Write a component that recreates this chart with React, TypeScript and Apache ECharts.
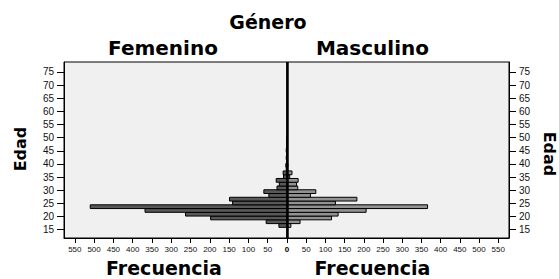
import React, { useEffect, useRef } from "react";
import * as echarts from "echarts";

// Age bin edges (years), bottom to top
const binEdges = [
  15.9, 17.33, 18.76, 20.19, 21.62, 23.05, 24.48, 25.91, 27.34, 28.77, 30.2, 31.63,
  33.06, 34.49, 35.92, 37.35, 38.78, 40.21, 41.64, 43.07, 44.5, 45.93, 47.36, 48.79, 50.22,
];
// Frequencies per bin, bottom (youngest) to top
const femenino = [21, 54, 198, 263, 368, 510, 141, 149, 47, 60, 26, 20, 28, 9, 10, 2, 3, 1, 2, 1, 2, 1, 1, 1];
const masculino = [10, 34, 116, 133, 206, 366, 126, 182, 61, 75, 28, 25, 29, 7, 13, 1, 2, 1, 1, 1, 1, 1, 1, 0];

const freqTicks = [0, 50, 100, 150, 200, 250, 300, 350, 400, 450, 500, 550];
const freqLabelsRight = [50, 100, 150, 200, 250, 300, 350, 400, 450, 500, 550];
const ageTicks = [15, 20, 25, 30, 35, 40, 45, 50, 55, 60, 65, 70, 75];

const FREQ_MAX = 578;
const AGE_MIN = 11.85;
const AGE_MAX = 78.8;

function buildData(vals: number[]) {
  const out: number[][] = [];
  vals.forEach((v, i) => {
    if (v > 0) out.push([binEdges[i], binEdges[i + 1], v]);
  });
  return out;
}

function makeRender(fill: string) {
  return (params: any, api: any) => {
    const lo = api.value(0);
    const hi = api.value(1);
    const v = api.value(2);
    const p0 = api.coord([0, lo]);
    const p1 = api.coord([v, hi]);
    return {
      type: "rect",
      shape: {
        x: Math.min(p0[0], p1[0]),
        y: Math.min(p0[1], p1[1]),
        width: Math.abs(p1[0] - p0[0]),
        height: Math.abs(p0[1] - p1[1]),
      },
      style: { fill, stroke: "#000", lineWidth: 1 },
    };
  };
}

const titleFont = 'bold 20px "DejaVu Sans"';

export default function App() {
  const ref = useRef<HTMLDivElement>(null);
  useEffect(() => {
    if (!ref.current) return;
    const chart = echarts.init(ref.current, null, { renderer: "svg" });
    const yAxisCommon = {
      type: "value",
      min: AGE_MIN,
      max: AGE_MAX,
      splitLine: { show: false },
      axisLine: { show: true, onZero: false, lineStyle: { color: "#000", width: 1 } },
      axisTick: { show: true, length: 7, customValues: ageTicks, lineStyle: { color: "#000" } },
      axisLabel: {
        show: true,
        customValues: ageTicks,
        margin: 10,
        fontFamily: "Liberation Sans",
        fontSize: 10,
        color: "#111",
      },
    };
    const xAxisCommon = {
      type: "value",
      min: 0,
      max: FREQ_MAX,
      splitLine: { show: false },
      axisLine: { show: true, onZero: false, lineStyle: { color: "#000", width: 1 } },
      axisTick: { show: true, length: 5, customValues: freqTicks, lineStyle: { color: "#000" } },
    };
    chart.setOption({
      animation: false,
      backgroundColor: "#fff",
      grid: [
        { left: 64, top: 62, width: 223, height: 176, show: true, backgroundColor: "#f0f0f0", borderColor: "#000", borderWidth: 1 },
        { left: 287, top: 62, width: 222, height: 176, show: true, backgroundColor: "#f0f0f0", borderColor: "#000", borderWidth: 1 },
      ],
      xAxis: [
        {
          ...xAxisCommon,
          gridIndex: 0,
          inverse: true,
          axisLabel: {
            customValues: freqTicks,
            margin: 7,
            fontFamily: "Liberation Sans",
            fontSize: 8,
            color: "#111",
            formatter: (v: number) => (v === 0 ? "{b|0}" : String(v)),
            rich: { b: { fontWeight: "bold", fontSize: 8, fontFamily: "Liberation Sans", color: "#000" } },
          },
        },
        {
          ...xAxisCommon,
          gridIndex: 1,
          axisLabel: {
            customValues: freqLabelsRight,
            margin: 7,
            fontFamily: "Liberation Sans",
            fontSize: 8,
            color: "#111",
          },
        },
      ],
      yAxis: [
        { ...yAxisCommon, gridIndex: 0, position: "left" },
        { ...yAxisCommon, gridIndex: 1, position: "right" },
      ],
      series: [
        {
          type: "custom",
          name: "Femenino",
          xAxisIndex: 0,
          yAxisIndex: 0,
          renderItem: makeRender("#585858"),
          data: buildData(femenino),
          encode: { x: 2, y: [0, 1] },
          markLine: {
            silent: true,
            symbol: "none",
            label: { show: false },
            lineStyle: { color: "#000", width: 2.5, type: "solid" },
            data: [{ xAxis: 0 }],
          },
          z: 2,
        },
        {
          type: "custom",
          name: "Masculino",
          xAxisIndex: 1,
          yAxisIndex: 1,
          renderItem: makeRender("#929292"),
          data: buildData(masculino),
          encode: { x: 2, y: [0, 1] },
          z: 2,
        },
      ],
      graphic: [
        { type: "text", x: 268, y: 22, style: { text: "Género", font: 'bold 19px "DejaVu Sans"', fill: "#000", textAlign: "center", textVerticalAlign: "middle" } },
        { type: "text", x: 163, y: 48, style: { text: "Femenino", font: titleFont, fill: "#000", textAlign: "center", textVerticalAlign: "middle" } },
        { type: "text", x: 372.5, y: 48, style: { text: "Masculino", font: titleFont, fill: "#000", textAlign: "center", textVerticalAlign: "middle" } },
        { type: "text", x: 164, y: 267.5, style: { text: "Frecuencia", font: 'bold 19px "DejaVu Sans"', fill: "#000", textAlign: "center", textVerticalAlign: "middle" } },
        { type: "text", x: 372.5, y: 267.5, style: { text: "Frecuencia", font: 'bold 19px "DejaVu Sans"', fill: "#000", textAlign: "center", textVerticalAlign: "middle" } },
        { type: "text", x: 20, y: 149, rotation: Math.PI / 2, style: { text: "Edad", font: 'bold 16px "DejaVu Sans"', fill: "#000", textAlign: "center", textVerticalAlign: "middle" } },
        { type: "text", x: 549, y: 154, rotation: -Math.PI / 2, style: { text: "Edad", font: 'bold 16px "DejaVu Sans"', fill: "#000", textAlign: "center", textVerticalAlign: "middle" } },
      ],
    });
    return () => chart.dispose();
  }, []);
  return <div ref={ref} style={{ position: "absolute", left: 0, top: 0, width: 559, height: 279 }} />;
}
